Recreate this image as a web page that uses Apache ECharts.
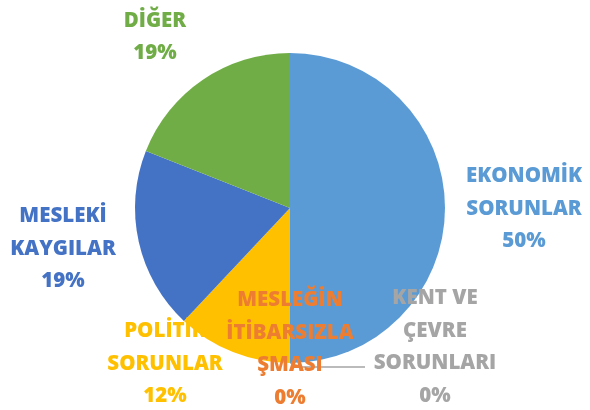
<!DOCTYPE html>
<html>
<head>
<meta charset="utf-8">
<script src="https://cdn.jsdelivr.net/npm/echarts@6/dist/echarts.min.js"></script>
<style>
  html, body { margin: 0; padding: 0; background: #fff; }
  #main { width: 590px; height: 410px; }
</style>
</head>
<body>
<div id="main"></div>
<script>
// dilimler, saat yönünde tepeden başlayarak
var names = ['EKONOMİK\nSORUNLAR', 'KENT VE\nÇEVRE\nSORUNLARI', 'MESLEĞİN\nİTİBARSIZLA\nŞMASI', 'POLİTİK\nSORUNLAR', 'MESLEKİ\nKAYGILAR', 'DİĞER'];
var values = [50, 0, 0, 12, 19, 19];
var colors = ['#5B9BD5', '#A5A5A5', '#ED7D31', '#FFC000', '#4472C4', '#70AD47'];
// etiket merkezleri (px)
var labelPos = [[524, 209], [435, 347], [290, 349], [165, 364], [63, 249], [155, 37]];

var cx = 290, cy = 208, r = 155;

var myChart = echarts.init(document.getElementById('main'));

var data = [];
for (var i = 0; i < names.length; i++) {
  data.push({
    name: names[i],
    value: values[i],
    itemStyle: { color: colors[i] },
    label: { color: colors[i] },
    labelLine: { show: i === 1, smooth: false, lineStyle: { color: '#A5A5A5', width: 1.3 } }
  });
}

var option = {
  animation: false,
  series: [
    {
      type: 'pie',
      center: [cx, cy],
      radius: r,
      startAngle: 90,
      clockwise: true,
      avoidLabelOverlap: false,
      label: {
        show: true,
        formatter: '{b}\n{d}%',
        fontFamily: 'Open Sans',
        fontWeight: 800,
        fontSize: 20.5,
        lineHeight: 32.5,
        align: 'center',
        verticalAlign: 'middle'
      },
      labelLine: { length: 10, length2: 10 },
      labelLayout: function (p) {
        var pos = labelPos[p.dataIndex];
        var o = { x: pos[0], y: pos[1], align: 'center', verticalAlign: 'middle' };
        if (p.dataIndex === 1) {
          o.labelLinePoints = [[cx, cy + r], [cx + 12, cy + r + 4], [cx + 75, cy + r + 4]];
        }
        return o;
      },
      data: data
    }
  ]
};
myChart.setOption(option);
</script>
</body>
</html>
